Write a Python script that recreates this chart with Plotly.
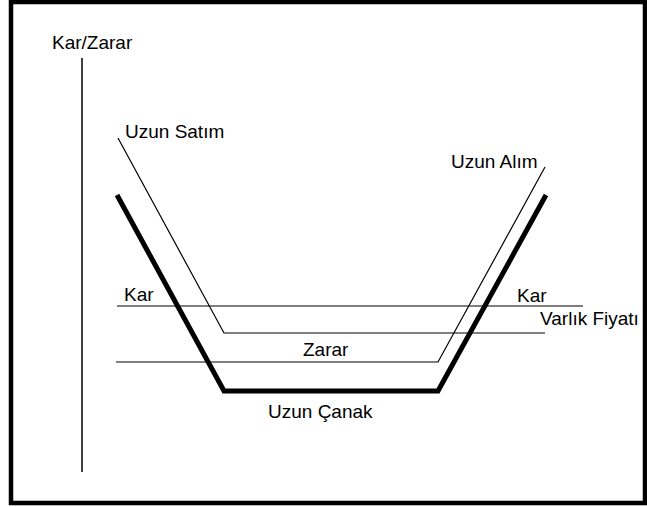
import plotly.graph_objects as go

# Payoff diagram values (asset price on x, profit/loss on y, arbitrary units)
put_price = [36, 142, 463]          # Uzun Satım
put_pl = [168, -27, -27]
call_price = [34, 356, 463]         # Uzun Alım
call_pl = [-56, -56, 139]
bowl_price = [35, 142, 356, 464]    # Uzun Çanak
bowl_pl = [111, -85, -85, 111]
zero_price = [35, 501]              # Kar line
zero_pl = [0, 0]
axis_price = [0, 0]                 # Kar/Zarar axis
axis_pl = [248, -166]

labels = ["Kar/Zarar", "Uzun Satım", "Uzun Alım", "Kar", "Kar",
          "Varlık Fiyatı", "Zarar", "Uzun Çanak"]

W, H = 647, 507
X0, Y0 = 82, 306  # pixel location of origin
FS = 19
FONT = "Liberation Sans, Arial, sans-serif"

fig = go.Figure()
line_style = dict(color="black", width=1.2)
fig.add_trace(go.Scatter(x=axis_price, y=axis_pl, mode="lines",
                         line=dict(color="black", width=1.5), hoverinfo="skip"))
fig.add_trace(go.Scatter(x=zero_price, y=zero_pl, mode="lines", line=line_style, hoverinfo="skip"))
fig.add_trace(go.Scatter(x=put_price, y=put_pl, mode="lines", line=line_style, hoverinfo="skip"))
fig.add_trace(go.Scatter(x=call_price, y=call_pl, mode="lines", line=line_style, hoverinfo="skip"))
fig.add_trace(go.Scatter(x=bowl_price, y=bowl_pl, mode="lines",
                         line=dict(color="black", width=5), hoverinfo="skip"))

# label positions in pixels (left, baseline)
label_pos = [(50, 49), (123, 138), (449, 168), (122, 301), (515, 302),
             (538, 325), (301, 356), (266, 418)]
for t, (px, py) in zip(labels, label_pos):
    fig.add_annotation(x=px - X0, y=Y0 - (py - 0.35 * FS), text=t, showarrow=False,
                       xanchor="left", yanchor="middle",
                       font=dict(family=FONT, size=FS, color="black"))

# outer frame
fig.add_shape(type="rect", xref="paper", yref="paper",
              x0=11 / W, x1=645 / W, y0=1 - 503 / H, y1=1 - 2 / H,
              line=dict(color="black", width=4.5))

fig.update_xaxes(range=[-X0, W - X0], visible=False, fixedrange=True)
fig.update_yaxes(range=[Y0 - H, Y0], visible=False, fixedrange=True)
fig.update_layout(width=W, height=H, autosize=False,
                  margin=dict(l=0, r=0, t=0, b=0),
                  paper_bgcolor="white", plot_bgcolor="white",
                  showlegend=False)
fig.write_html("out.html", config={"displayModeBar": False},
               post_script="document.body.style.margin='0';document.body.style.overflow='hidden';")
